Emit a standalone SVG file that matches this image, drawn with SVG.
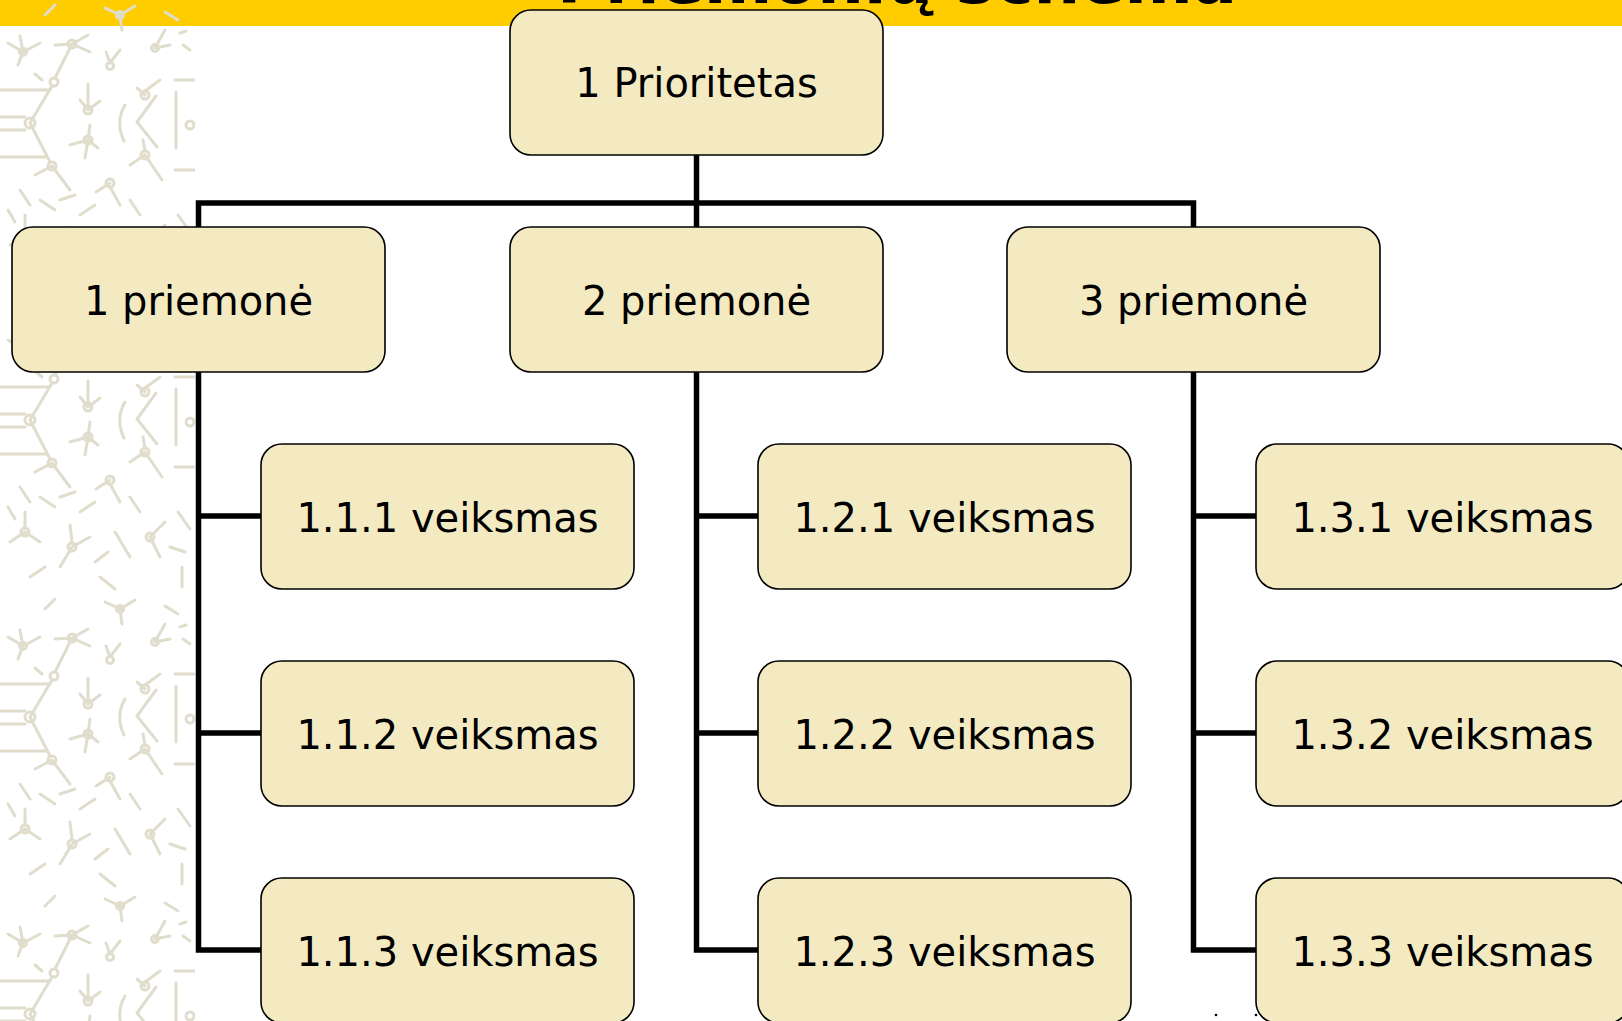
<svg xmlns="http://www.w3.org/2000/svg" width="1622" height="1021" viewBox="0 0 1622 1021">
  <style>
    .box { fill: #F4EAC2; stroke: #000; stroke-width: 1.6; }
    .lbl { font-family: "DejaVu Sans", Verdana, sans-serif; font-size: 40px; fill: #000; text-anchor: middle; }
    .conn { fill: none; stroke: #000; stroke-width: 5.5; stroke-linejoin: miter; stroke-linecap: square; }
    .deco { fill: none; stroke: #E0DDCC; stroke-width: 3; stroke-linecap: round; }
    .title { font-family: "DejaVu Sans", Verdana, sans-serif; font-weight: bold; font-size: 66px; fill: #000; text-anchor: middle; }
  </style>
  <defs>
    <pattern id="molecules" x="0" y="0" width="195" height="297" patternUnits="userSpaceOnUse">
      <g class="deco">
        <circle cx="23" cy="52" r="3.5"/>
        <path d="M23,52 L8,43 M23,52 L40,43 M23,52 L18,65 M23,52 L20,36"/>
        <circle cx="72" cy="44" r="4"/>
        <path d="M72,44 L55,45 M72,44 L88,35 M72,44 L90,52 M72,44 L55,78"/>
        <circle cx="110" cy="66" r="3.5"/>
        <path d="M110,63 L120,50 M110,63 L106,52"/>
        <circle cx="155" cy="48" r="3.5"/>
        <path d="M155,48 L165,30 M155,48 L170,45"/>
        <path d="M183,45 L190,50 M180,33 L186,31"/>
        <path d="M0,90 L50,90"/>
        <circle cx="54" cy="82" r="4"/>
        <circle cx="30" cy="123" r="5"/>
        <path d="M0,117 L25,117 M0,130 L25,130 M30,123 L52,86 M30,123 L50,162"/>
        <path d="M35,74 L42,80"/>
        <circle cx="52" cy="166" r="4"/>
        <path d="M0,157 L46,157 M52,166 L70,190 M52,166 L35,175"/>
        <circle cx="88" cy="110" r="4"/>
        <path d="M88,106 L88,84 M88,110 L80,100 M88,110 L100,101"/>
        <circle cx="88" cy="140" r="4"/>
        <path d="M88,140 L70,145 M88,140 L98,148 M88,140 L90,125 M88,140 L85,158"/>
        <path d="M125,105 Q115,122 124,141"/>
        <path d="M156,96 L137,122 L157,147"/>
        <circle cx="190" cy="125" r="4"/>
        <path d="M176,92 L176,148 M175,80 L195,80 M175,170 L195,170"/>
        <circle cx="145" cy="95" r="4"/>
        <path d="M145,91 L160,80 M145,95 L137,88"/>
        <circle cx="145" cy="155" r="4"/>
        <path d="M145,155 L130,165 M145,155 L162,180 M145,151 L143,140"/>
        <circle cx="110" cy="183" r="4"/>
        <path d="M110,187 L120,205 M110,183 L96,192"/>
        <path d="M20,190 L30,205 M40,200 L55,210 M80,215 L95,205 M130,200 L140,215"/>
        <circle cx="25" cy="235" r="4"/>
        <path d="M25,235 L10,245 M25,235 L40,245 M25,231 L25,215"/>
        <circle cx="72" cy="250" r="4"/>
        <path d="M72,250 L60,270 M72,250 L90,240 M72,246 L70,228"/>
        <path d="M115,235 L130,260 M150,240 L165,225 M150,240 L160,260"/>
        <circle cx="150" cy="240" r="4"/>
        <path d="M178,215 L190,232 M182,270 L182,290"/>
        <path d="M30,280 L45,270 M100,280 L115,292"/>
        <circle cx="120" cy="15" r="3.5"/>
        <path d="M120,15 L105,8 M120,15 L135,6 M120,15 L122,30"/>
        <path d="M45,15 L55,5 M165,12 L178,20 M60,200 L75,195"/>
        <path d="M95,265 L108,255 M8,210 L15,222 M170,250 L185,255"/>
      </g>
    </pattern>
  </defs>

  <rect x="0" y="0" width="1622" height="1021" fill="#FFFFFF"/>
  <rect x="0" y="0" width="1622" height="26" fill="#FFCC00"/>
  <rect x="0" y="0" width="195" height="1021" fill="url(#molecules)"/>

  <g id="connectors">
    <path class="conn" d="M696.5,155 L696.5,227"/>
    <path class="conn" d="M198.5,227 L198.5,203 L1193.5,203 L1193.5,227"/>
    <path class="conn" d="M198.5,372 L198.5,950 L261,950 M198.5,516 L261,516 M198.5,733 L261,733"/>
    <path class="conn" d="M696.5,372 L696.5,950 L758,950 M696.5,516 L758,516 M696.5,733 L758,733"/>
    <path class="conn" d="M1193.5,372 L1193.5,950 L1256,950 M1193.5,516 L1256,516 M1193.5,733 L1256,733"/>
  </g>

  <g id="n-prioritetas"><rect class="box" x="510" y="10" width="373" height="145" rx="21"/><text class="lbl" x="696.5" y="97">1 Prioritetas</text></g>

  <g id="n-p1"><rect class="box" x="12" y="227" width="373" height="145" rx="21"/><text class="lbl" x="198.5" y="315">1 priemonė</text></g>
  <g id="n-p2"><rect class="box" x="510" y="227" width="373" height="145" rx="21"/><text class="lbl" x="696.5" y="315">2 priemonė</text></g>
  <g id="n-p3"><rect class="box" x="1007" y="227" width="373" height="145" rx="21"/><text class="lbl" x="1193.5" y="315">3 priemonė</text></g>

  <g id="n-111"><rect class="box" x="261" y="444" width="373" height="145" rx="21"/><text class="lbl" x="447.5" y="532">1.1.1 veiksmas</text></g>
  <g id="n-112"><rect class="box" x="261" y="661" width="373" height="145" rx="21"/><text class="lbl" x="447.5" y="749">1.1.2 veiksmas</text></g>
  <g id="n-113"><rect class="box" x="261" y="878" width="373" height="145" rx="21"/><text class="lbl" x="447.5" y="966">1.1.3 veiksmas</text></g>

  <g id="n-121"><rect class="box" x="758" y="444" width="373" height="145" rx="21"/><text class="lbl" x="944.5" y="532">1.2.1 veiksmas</text></g>
  <g id="n-122"><rect class="box" x="758" y="661" width="373" height="145" rx="21"/><text class="lbl" x="944.5" y="749">1.2.2 veiksmas</text></g>
  <g id="n-123"><rect class="box" x="758" y="878" width="373" height="145" rx="21"/><text class="lbl" x="944.5" y="966">1.2.3 veiksmas</text></g>

  <g id="n-131"><rect class="box" x="1256" y="444" width="373" height="145" rx="21"/><text class="lbl" x="1442.5" y="532">1.3.1 veiksmas</text></g>
  <g id="n-132"><rect class="box" x="1256" y="661" width="373" height="145" rx="21"/><text class="lbl" x="1442.5" y="749">1.3.2 veiksmas</text></g>
  <g id="n-133"><rect class="box" x="1256" y="878" width="373" height="145" rx="21"/><text class="lbl" x="1442.5" y="966">1.3.3 veiksmas</text></g>

  <circle cx="1216" cy="1015" r="1.3" fill="#000"/>
  <circle cx="1256" cy="1015" r="1.3" fill="#000"/>

  <text class="title" x="897" y="3" textLength="680" lengthAdjust="spacingAndGlyphs">Priemonių schema</text>
</svg>
